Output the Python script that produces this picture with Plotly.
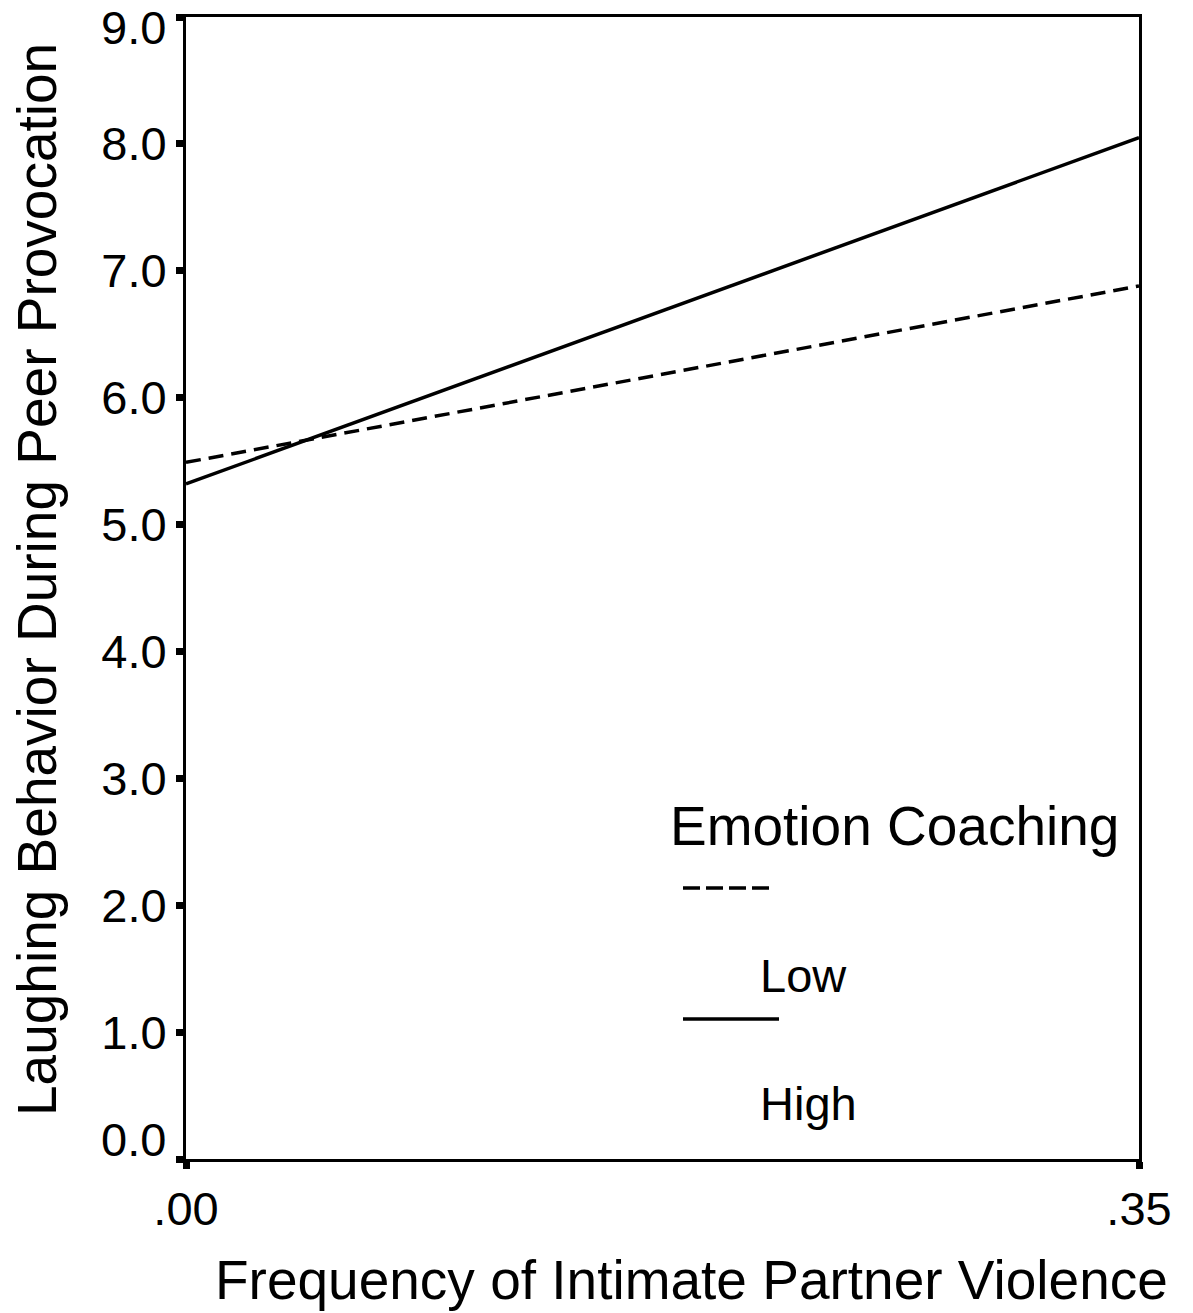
import plotly.graph_objects as go

x_vals = [0.0, 0.35]
low_ec = [5.49, 6.88]
high_ec = [5.32, 8.05]
y_ticks = [0, 1, 2, 3, 4, 5, 6, 7, 8, 9]
y_ticktext = ["0.0", "1.0", "2.0", "3.0", "4.0", "5.0", "6.0", "7.0", "8.0", "9.0"]
x_ticks = [0.0, 0.35]
x_ticktext = [".00", ".35"]

FONT = "Liberation Sans, Arial, sans-serif"

fig = go.Figure()
fig.add_trace(go.Scatter(x=x_vals, y=low_ec, mode="lines", name="Low",
                         line=dict(color="black", width=3.5, dash="15px,8px"), showlegend=False))
fig.add_trace(go.Scatter(x=x_vals, y=high_ec, mode="lines", name="High",
                         line=dict(color="black", width=3.5), showlegend=False))

W, H = 1193, 1313
L, R, T, B = 186, 54, 17, 154
pw, ph = W - L - R, H - T - B

def px(x):
    return (x - L) / pw

def py(y):
    return 1 - (y - T) / ph

axis_common = dict(showline=True, linecolor="black", linewidth=3, mirror=True,
                   showgrid=False, zeroline=False, ticks="outside", ticklen=7,
                   tickwidth=7, tickcolor="black", tickfont=dict(size=47),
                   ticklabeloverflow="allow", automargin=False)

# end labels (0.0 and 9.0) are nudged inward as in the original; drawn as annotations
inner_text = [t if 0 < v < 9 else "" for v, t in zip(y_ticks, y_ticktext)]

fig.update_layout(
    width=W, height=H,
    margin=dict(l=L, r=R, t=T, b=B, autoexpand=False),
    paper_bgcolor="white", plot_bgcolor="white",
    font=dict(family=FONT, color="black", size=47),
    xaxis=dict(range=[0, 0.35], tickvals=x_ticks, ticktext=x_ticktext, **axis_common),
    yaxis=dict(range=[0, 9], tickvals=y_ticks, ticktext=inner_text, **axis_common),
    showlegend=False,
)

for v, t in zip(y_ticks, y_ticktext):
    if v == 0:
        fig.add_annotation(text=t, xref="paper", yref="y", x=0, y=v,
                           xanchor="right", yanchor="middle", xshift=-19, yshift=20,
                           showarrow=False, borderpad=0, font=dict(size=47))
    elif v == 9:
        fig.add_annotation(text=t, xref="paper", yref="y", x=0, y=v,
                           xanchor="right", yanchor="top", xshift=-19, yshift=17,
                           showarrow=False, borderpad=0, font=dict(size=47))

# axis titles
fig.add_annotation(text="Frequency of Intimate Partner Violence", xref="paper", yref="paper",
                   x=px(691), y=py(1280), showarrow=False, font=dict(size=55),
                   xanchor="center", yanchor="middle")
fig.add_annotation(text="Laughing Behavior During Peer Provocation", xref="paper", yref="paper",
                   x=px(37), y=py(580), showarrow=False, font=dict(size=55), textangle=-90,
                   xanchor="center", yanchor="middle")

# legend
fig.add_annotation(text="Emotion Coaching", xref="paper", yref="paper",
                   x=px(668), y=py(826), showarrow=False, font=dict(size=55),
                   xanchor="left", yanchor="middle")
fig.add_annotation(text="Low", xref="paper", yref="paper",
                   x=px(758), y=py(975), showarrow=False, font=dict(size=47),
                   xanchor="left", yanchor="middle")
fig.add_annotation(text="High", xref="paper", yref="paper",
                   x=px(758), y=py(1103), showarrow=False, font=dict(size=47),
                   xanchor="left", yanchor="middle")
fig.add_shape(type="line", xref="paper", yref="paper", x0=px(683), x1=px(771),
              y0=py(888), y1=py(888), line=dict(color="black", width=3.5, dash="17px,6px"))
fig.add_shape(type="line", xref="paper", yref="paper", x0=px(683), x1=px(779),
              y0=py(1019), y1=py(1019), line=dict(color="black", width=3.5))

fig.write_html("out.html", config={"displayModeBar": False},
               post_script="document.body.style.margin='0';")
